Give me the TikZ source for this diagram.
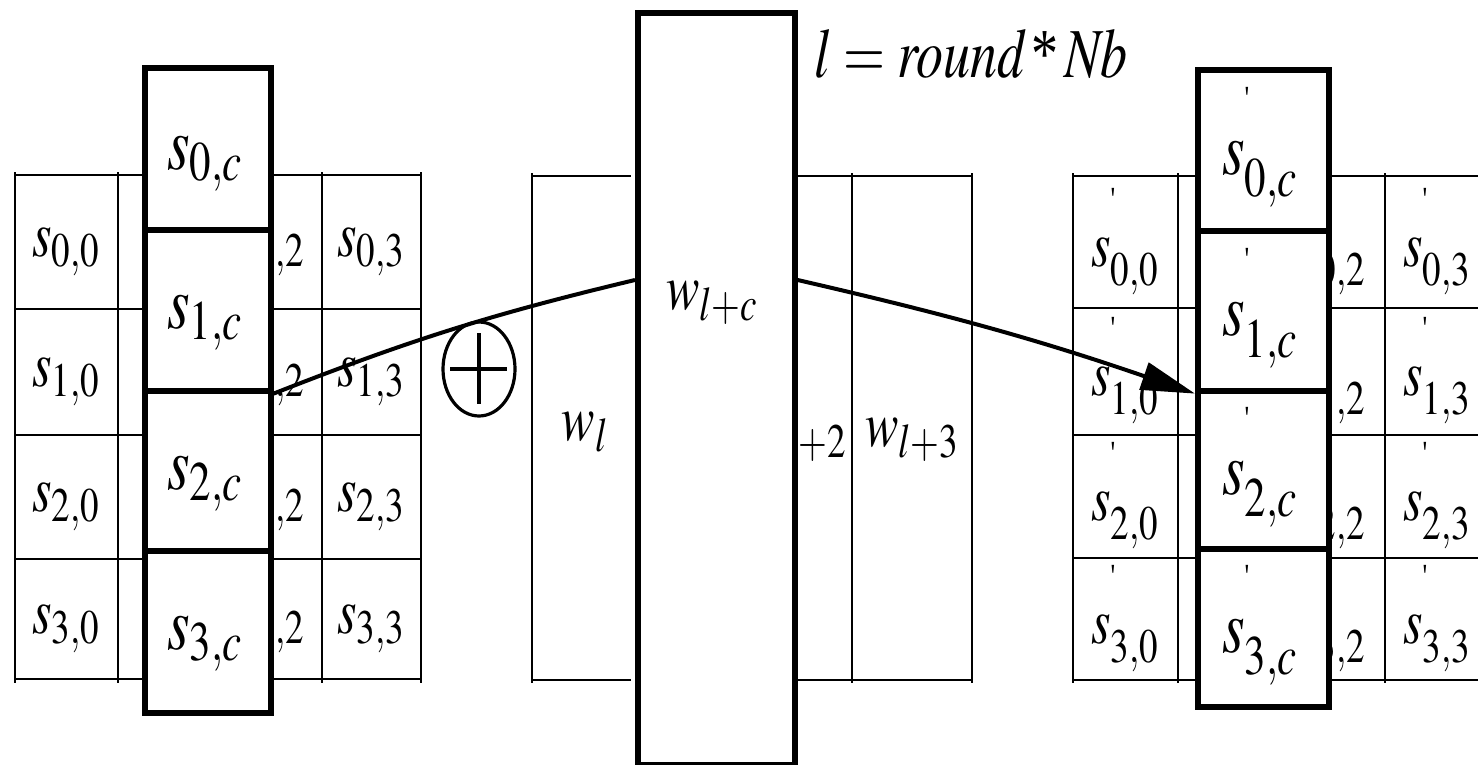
\documentclass[tikz,border=0pt]{standalone}
\usepackage{mathptmx}
\usepackage[no-math]{fontspec}
\setmainfont{Liberation Serif}
\usetikzlibrary{arrows.meta,shapes.geometric}
\newcommand{\cellt}[1]{\scalebox{1}[1.3]{\fontsize{25}{30}\selectfont$#1$}}
\newcommand{\bigt}[1]{\scalebox{1}[1.3]{\fontsize{29}{34}\selectfont$#1$}}
\newcommand{\pp}{^{\raisebox{0.5em}{\fontsize{13}{13}\selectfont\textquotesingle}}}
\begin{document}
\begin{tikzpicture}[x=0.5pt,y=-0.5pt,
  gridln/.style={line width=1.2pt},
  hibox/.style={draw,line width=2.8pt,fill=white,inner sep=0pt,anchor=north west,minimum width=63pt},
  txt/.style={inner sep=0pt},
  conn/.style={line width=2pt}]
\path[use as bounding box] (0,0) rectangle (1478,765);

% ---------- left state grid ----------
\foreach \y in {175,309,435,559,679} \draw[gridln] (15,\y) -- (421,\y);
\foreach \x in {15,118,220,322,421} \draw[gridln] (\x,172) -- (\x,683);
\node[txt] (a00) at (66,252) {\cellt{s_{0,0}}};
\node[txt] (a10) at (66,382) {\cellt{s_{1,0}}};
\node[txt] (a20) at (66,507) {\cellt{s_{2,0}}};
\node[txt] (a30) at (66,629) {\cellt{s_{3,0}}};
\node[txt] (a02) at (271,252) {\cellt{s_{0,2}}};
\node[txt] (a12) at (271,382) {\cellt{s_{1,2}}};
\node[txt] (a22) at (271,507) {\cellt{s_{2,2}}};
\node[txt] (a32) at (271,629) {\cellt{s_{3,2}}};
\node[txt] (a03) at (371,252) {\cellt{s_{0,3}}};
\node[txt] (a13) at (371,382) {\cellt{s_{1,3}}};
\node[txt] (a23) at (371,507) {\cellt{s_{2,3}}};
\node[txt] (a33) at (371,629) {\cellt{s_{3,3}}};
% highlighted column
\node[hibox,minimum height=81pt] (L0) at (142,65) {};
\node[hibox,minimum height=80.5pt] (L1) at (142,227) {};
\node[hibox,minimum height=80pt] (L2) at (142,388) {};
\node[hibox,minimum height=81pt] (L3) at (142,548) {};
\node[txt] (l0t) at (205,164) {\bigt{s_{0,c}}};
\node[txt] (l1t) at (205,323) {\bigt{s_{1,c}}};
\node[txt] (l2t) at (205,484) {\bigt{s_{2,c}}};
\node[txt] (l3t) at (205,644) {\bigt{s_{3,c}}};

% ---------- round key words ----------
\draw[gridln] (532,176) -- (631,176) (532,680) -- (631,680);
\draw[gridln] (532,173) -- (532,683);
\draw[gridln] (792,176) -- (972,176) (792,680) -- (972,680);
\draw[gridln] (852,173) -- (852,683) (972,173) -- (972,683);
\node[txt] (wl) at (585,432) {\cellt{w_{l}}};
\node[txt,anchor=east] (wl2) at (847,440) {\cellt{w_{l+2}}};
\node[txt] (wl3) at (912,440) {\cellt{w_{l+3}}};
\node[hibox,minimum width=78.5pt,minimum height=376pt] (W) at (635,10) {};
\node[txt] (wlc) at (712,303) {\cellt{w_{l+c}}};
\node[txt] (title) at (971,54) {\scalebox{1}[1.3]{\fontsize{27}{32}\selectfont$l = \mathit{round}\,\mbox{*}\,\mathit{Nb}$}};

% ---------- right state grid ----------
\foreach \y in {176,308,435,558,680} \draw[gridln] (1073,\y) -- (1480,\y);
\foreach \x in {1073,1178,1280,1385} \draw[gridln] (\x,173) -- (\x,683);
\node[txt] (b00) at (1125,242) {\cellt{s\pp_{0,0}}};
\node[txt] (b10) at (1125,371) {\cellt{s\pp_{1,0}}};
\node[txt] (b20) at (1125,496) {\cellt{s\pp_{2,0}}};
\node[txt] (b30) at (1125,619) {\cellt{s\pp_{3,0}}};
\node[txt] (b02) at (1332,242) {\cellt{s\pp_{0,2}}};
\node[txt] (b12) at (1332,371) {\cellt{s\pp_{1,2}}};
\node[txt] (b22) at (1332,496) {\cellt{s\pp_{2,2}}};
\node[txt] (b32) at (1332,619) {\cellt{s\pp_{3,2}}};
\node[txt] (b03) at (1437,242) {\cellt{s\pp_{0,3}}};
\node[txt] (b13) at (1437,371) {\cellt{s\pp_{1,3}}};
\node[txt] (b23) at (1437,496) {\cellt{s\pp_{2,3}}};
\node[txt] (b33) at (1437,619) {\cellt{s\pp_{3,3}}};
\node[hibox,minimum width=65.5pt,minimum height=80.5pt] (R0) at (1195,67) {};
\node[hibox,minimum width=65.5pt,minimum height=80pt] (R1) at (1195,228) {};
\node[hibox,minimum width=65.5pt,minimum height=79pt] (R2) at (1195,388) {};
\node[hibox,minimum width=65.5pt,minimum height=79pt] (R3) at (1195,546) {};
\node[txt] (r0t) at (1260,147) {\bigt{s\pp_{0,c}}};
\node[txt] (r1t) at (1260,308) {\bigt{s\pp_{1,c}}};
\node[txt] (r2t) at (1260,467) {\bigt{s\pp_{2,c}}};
\node[txt] (r3t) at (1260,625) {\bigt{s\pp_{3,c}}};

% ---------- XOR and connectors ----------
\node[draw,ellipse,line width=1.6pt,minimum width=36pt,minimum height=47pt,inner sep=0pt] (xor) at (479,369) {};
\draw[line width=2.2pt] ([xshift=4.5pt]xor.west) -- ([xshift=-5pt]xor.east);
\draw[line width=1.6pt] ([yshift=-6.5pt]xor.north) -- ([yshift=7pt]xor.south);
\draw[conn] (L1.south east) to[bend left=4] (W.west |- 0,280);
\draw[conn,-{Triangle[length=27pt,width=14pt]}] (W.east |- 0,280) to[bend left=3] (R1.south west);
\end{tikzpicture}
\end{document}
